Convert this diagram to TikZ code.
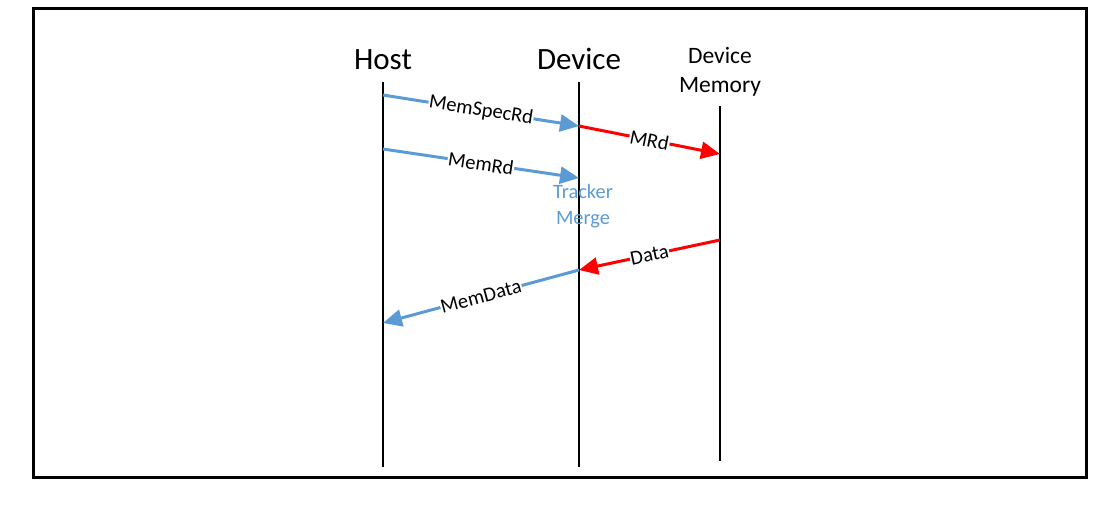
\documentclass[tikz,border=0pt]{standalone}
\usepackage{fontspec}
\setmainfont{Carlito}
\usetikzlibrary{arrows.meta}
\definecolor{msgblue}{RGB}{91,155,213}
\definecolor{msgred}{RGB}{255,0,0}
\begin{document}
\begin{tikzpicture}[x=1pt,y=-1pt,
  lifeline/.style={line width=2.5pt,black},
  msg/.style={line width=3pt,-{Triangle[length=19pt,width=17pt]}},
  bluemsg/.style={msg,draw=msgblue},
  redmsg/.style={msg,draw=msgred},
  msglabel/.style={fill=white,inner sep=0.6pt,sloped,midway,text=black,font=\fontsize{20.5}{24}\selectfont},
  bighead/.style={font=\fontsize{31}{36}\selectfont,inner sep=0pt},
  smallhead/.style={font=\fontsize{23.5}{29}\selectfont,align=center,inner sep=0pt},
  note/.style={font=\fontsize{20.4}{26}\selectfont,align=center,text=msgblue,inner sep=0pt}]
\useasboundingbox (0,0) rectangle (1114,507);
\draw[line width=3pt] (33,8) rectangle (1086,477);
% headers
\node[bighead,anchor=base] (host) at (383,69) {Host};
\node[bighead,anchor=base] (dev) at (579,69) {Device};
\node[smallhead] (mem) at (720,72) {Device\\Memory};
% lifelines
\coordinate (htop) at (383,82);
\coordinate (hbot) at (383,467);
\coordinate (dtop) at (579,82);
\coordinate (dbot) at (579,467);
\coordinate (mtop) at (720,106);
\coordinate (mbot) at (720,461);
\draw[lifeline] (htop) -- (hbot);
\draw[lifeline] (dtop) -- (dbot);
\draw[lifeline] (mtop) -- (mbot);
% message points
\coordinate (h1) at (383,95);
\coordinate (d1) at (579,126);
\coordinate (m1) at (720,154);
\coordinate (h2) at (383,149);
\coordinate (d2) at (579,178);
\coordinate (m3) at (720,240);
\coordinate (d3) at (579,270);
\coordinate (h3) at (383,323);
\draw[bluemsg] (h1) -- (d1) node[msglabel] (l1) {MemSpecRd};
\draw[redmsg] (d1) -- (m1) node[msglabel] (l2) {MRd};
\draw[bluemsg] (h2) -- (d2) node[msglabel] (l3) {MemRd};
\draw[redmsg] (m3) -- (d3) node[msglabel] (l4) {Data};
\draw[bluemsg] (d3) -- (h3) node[msglabel] (l5) {MemData};
\node[note] (tm) at (583,206) {Tracker\\Merge};
\end{tikzpicture}
\end{document}
